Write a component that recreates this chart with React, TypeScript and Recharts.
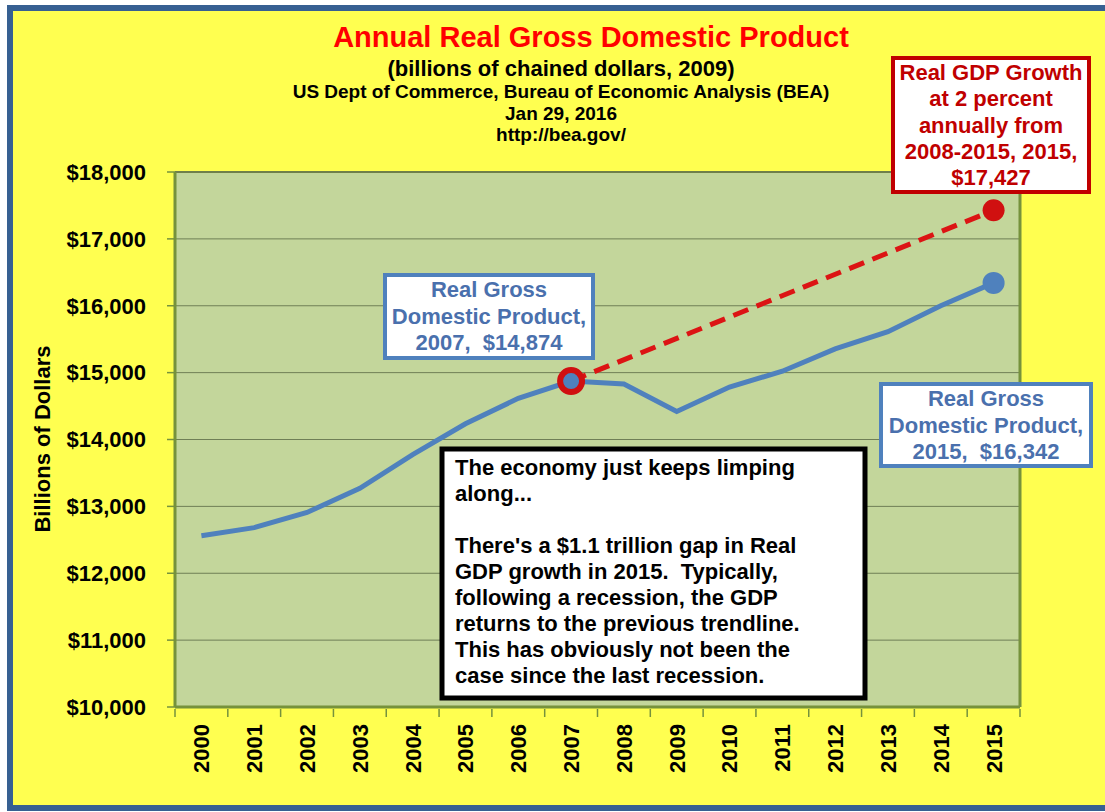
import React from 'react';
import { LineChart, Line, XAxis, YAxis, CartesianGrid, ReferenceLine } from 'recharts';

const years = [2000, 2001, 2002, 2003, 2004, 2005, 2006, 2007, 2008, 2009, 2010, 2011, 2012, 2013, 2014, 2015];
const realGdp = [12560, 12682, 12909, 13271, 13774, 14235, 14615, 14874, 14830, 14419, 14784, 15021, 15355, 15612, 16000, 16342];
// 2% growth path from 2007, only the two end points are drawn (straight dashed line)
const trendGdp = [null, null, null, null, null, null, null, 14874, null, null, null, null, null, null, null, 17427];
const yTicks = [10000, 11000, 12000, 13000, 14000, 15000, 16000, 17000, 18000];

const titleText = 'Annual Real Gross Domestic Product';
const subtitleLines = ['US Dept of Commerce, Bureau of Economic Analysis (BEA)', 'Jan 29, 2016', 'http://bea.gov/'];
const box2007Lines = ['Real Gross', 'Domestic Product,', '2007,  $14,874'];
const box2015Lines = ['Real Gross', 'Domestic Product,', '2015,  $16,342'];
const growthLines = ['Real GDP Growth', 'at 2 percent', 'annually from', '2008-2015, 2015,', '$17,427'];
const noteLines = [
  'The economy just keeps limping',
  'along...',
  '',
  "There's a $1.1 trillion gap in Real",
  'GDP growth in 2015.  Typically,',
  'following a recession, the GDP',
  'returns to the previous trendline.',
  'This has obviously not been the',
  'case since the last recession.',
];

const chartData = years.map((year, i) => ({ year, gdp: realGdp[i], trend: trendGdp[i] }));
const yearEdges = [...years.map((y) => y - 0.5), years[years.length - 1] + 0.5];
const xTicks = [...yearEdges, ...years].sort((a, b) => a - b);

const FONT = '"Liberation Sans", Arial, sans-serif';
const OLIVE = '#76923c';
const BLUE = '#4f81bd';
const BOX_TEXT = '#4a70ad';
const DARK_RED = '#c00000';

function YearTick({ x, y, payload }: any) {
  const v = payload.value;
  if (!Number.isInteger(v)) {
    return <line x1={x} x2={x} y1={y} y2={y + 8} stroke={OLIVE} strokeWidth={1.5} />;
  }
  const ty = y + 15;
  return (
    <text
      x={x}
      y={ty}
      dy="0.36em"
      transform={`rotate(-90 ${x} ${ty})`}
      textAnchor="end"
      fontFamily={FONT}
      fontSize={22}
      fontWeight="bold"
      fill="#000"
    >
      {v}
    </text>
  );
}

const gdpDot = (props: any) => {
  const { cx, cy, payload } = props;
  if (payload.year !== 2015) return <g key={`gd-${payload.year}`} />;
  return <circle key={`gd-${payload.year}`} cx={cx} cy={cy} r={11} fill={BLUE} />;
};

const trendDot = (props: any) => {
  const { cx, cy, payload } = props;
  if (payload.trend == null) return <g key={`td-${payload.year}`} />;
  if (payload.year === 2007) {
    return <circle key="td-2007" cx={cx} cy={cy} r={11} fill={BLUE} stroke="#d01010" strokeWidth={6} />;
  }
  return <circle key={`td-${payload.year}`} cx={cx} cy={cy} r={11} fill="#d01010" />;
};

function TextBlock({ lines, x, y0, step, anchor, fill }: any) {
  return (
    <g fontFamily={FONT} fontSize={22} fontWeight="bold" fill={fill} textAnchor={anchor}>
      {lines.map((t: string, i: number) => (
        <text key={i} x={x} y={y0 + i * step} style={{ whiteSpace: 'pre' }}>
          {t}
        </text>
      ))}
    </g>
  );
}

export default function App() {
  return (
    <div style={{ position: 'absolute', left: 0, top: 0, width: 1105, height: 812, background: '#fff', overflow: 'hidden' }}>
      <svg width={1105} height={812} style={{ position: 'absolute', left: 0, top: 0 }}>
        <rect x={10} y={8} width={1120} height={800} fill="#ffff50" stroke="#376092" strokeWidth={6} />
      </svg>

      <div style={{ position: 'absolute', left: 0, top: 0 }}>
        <LineChart width={1105} height={812} data={chartData} margin={{ top: 172, right: 85, bottom: 45, left: 75 }}>
          <CartesianGrid vertical={false} fill="#c3d69b" fillOpacity={1} stroke="#6f7f56" strokeWidth={1} />
          <XAxis
            dataKey="year"
            type="number"
            domain={[yearEdges[0], yearEdges[yearEdges.length - 1]]}
            ticks={xTicks}
            interval={0}
            height={60}
            tickSize={0}
            tickLine={false}
            axisLine={{ stroke: OLIVE, strokeWidth: 3 }}
            tick={<YearTick />}
          />
          <YAxis
            type="number"
            domain={[10000, 18000]}
            ticks={yTicks}
            interval={0}
            width={100}
            tickSize={8}
            tickMargin={21}
            tickLine={{ stroke: OLIVE, strokeWidth: 1.5 }}
            axisLine={{ stroke: OLIVE, strokeWidth: 3 }}
            tick={{ fontSize: 22, fontWeight: 'bold', fill: '#000', fontFamily: FONT }}
            tickFormatter={(v: number) => `$${v.toLocaleString('en-US')}`}
          />
          <ReferenceLine x={yearEdges[yearEdges.length - 1]} stroke={OLIVE} strokeWidth={3} />
          <ReferenceLine y={18000} stroke="#6f7f4a" strokeWidth={2} />
          <Line
            dataKey="gdp"
            stroke={BLUE}
            strokeWidth={5}
            dot={gdpDot}
            activeDot={false}
            isAnimationActive={false}
          />
          <Line
            dataKey="trend"
            stroke="#dc1414"
            strokeWidth={5}
            strokeDasharray="16 9"
            connectNulls
            dot={trendDot}
            activeDot={false}
            isAnimationActive={false}
          />
        </LineChart>
      </div>

      <svg width={1105} height={812} style={{ position: 'absolute', left: 0, top: 0, pointerEvents: 'none' }}>
        <text x={591} y={47} textAnchor="middle" fontFamily={FONT} fontSize={29} fontWeight="bold" fill="#ff0000">
          {titleText}
        </text>
        <text x={561} y={76} textAnchor="middle" fontFamily={FONT} fontSize={22} fontWeight="bold" fill="#000">
          (billions of chained dollars, 2009)
        </text>
        <g fontFamily={FONT} fontSize={19} fontWeight="bold" fill="#000" textAnchor="middle">
          {subtitleLines.map((t, i) => (
            <text key={i} x={561} y={98 + i * 21.5}>
              {t}
            </text>
          ))}
        </g>

        <text
          x={42}
          y={439}
          transform="rotate(-90 42 439)"
          textAnchor="middle"
          dy="0.36em"
          fontFamily={FONT}
          fontSize={22}
          fontWeight="bold"
          fill="#000"
        >
          Billions of Dollars
        </text>

        <rect x={385} y={275} width={208} height={83} fill="#fff" stroke={BLUE} strokeWidth={4} />
        <TextBlock lines={box2007Lines} x={489} y0={297} step={26.5} anchor="middle" fill={BOX_TEXT} />

        <rect x={881} y={384} width={210} height={82} fill="#fff" stroke={BLUE} strokeWidth={4} />
        <TextBlock lines={box2015Lines} x={986} y0={406} step={26.5} anchor="middle" fill={BOX_TEXT} />

        <rect x={893} y={58} width={196} height={134} fill="#fff" stroke={DARK_RED} strokeWidth={4} />
        <TextBlock lines={growthLines} x={991} y0={80} step={26.3} anchor="middle" fill={DARK_RED} />

        <rect x={442} y={449} width={423} height={249} fill="#fff" stroke="#000" strokeWidth={5} />
        <TextBlock lines={noteLines} x={455} y0={475} step={26} anchor="start" fill="#000" />
      </svg>
    </div>
  );
}
